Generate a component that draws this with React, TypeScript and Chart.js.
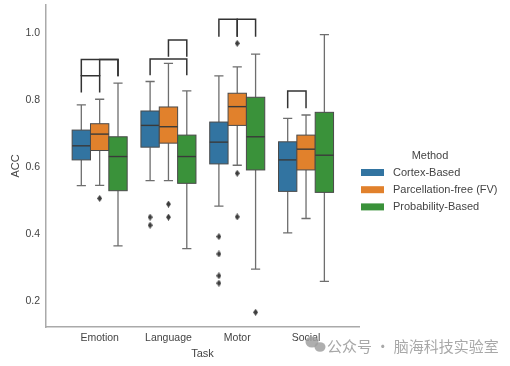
import React, { useEffect, useRef } from "react";
import { Chart, registerables } from "chart.js";

Chart.register(...registerables);

const categories = ["Emotion", "Language", "Motor", "Social"];
const methods = ["Cortex-Based", "Parcellation-free (FV)", "Probability-Based"];
const methodColors = ["#3274a1", "#e1812c", "#3a923a"];

// five-number summaries per task: [whiskerLow, q1, median, q3, whiskerHigh]
const cortexStats = [
  [0.545, 0.622, 0.664, 0.711, 0.786],
  [0.56, 0.66, 0.725, 0.768, 0.856],
  [0.484, 0.61, 0.675, 0.735, 0.873],
  [0.404, 0.528, 0.622, 0.676, 0.746],
];
const fvStats = [
  [0.546, 0.65, 0.699, 0.73, 0.803],
  [0.56, 0.672, 0.721, 0.78, 0.91],
  [0.606, 0.725, 0.781, 0.821, 0.9],
  [0.447, 0.592, 0.654, 0.696, 0.756],
];
const probStats = [
  [0.365, 0.53, 0.632, 0.691, 0.851],
  [0.357, 0.552, 0.632, 0.696, 0.828],
  [0.296, 0.592, 0.691, 0.809, 0.938],
  [0.259, 0.525, 0.636, 0.764, 0.996],
];

// outliers: [taskIndex, value]
const cortexOutliers = [
  [1, 0.451], [1, 0.427],
  [2, 0.393], [2, 0.341], [2, 0.276], [2, 0.254],
];
const fvOutliers = [
  [0, 0.507],
  [1, 0.49], [1, 0.451],
  [2, 0.97], [2, 0.582], [2, 0.452],
];
const probOutliers = [[2, 0.167]];

// significance brackets: task, method a, method b, line level, leg drop
const brackets = [
  { task: 0, a: 0, b: 1, level: 0.873, drop: 0.05 },
  { task: 0, a: 0, b: 2, level: 0.922, drop: 0.05 },
  { task: 0, a: 1, b: 2, level: 0.922, drop: 0.05 },
  { task: 1, a: 0, b: 2, level: 0.923, drop: 0.048 },
  { task: 1, a: 1, b: 2, level: 0.98, drop: 0.05 },
  { task: 2, a: 0, b: 1, level: 1.042, drop: 0.052 },
  { task: 2, a: 1, b: 2, level: 1.042, drop: 0.052 },
  { task: 3, a: 0, b: 1, level: 0.828, drop: 0.052 },
];

const yTicks = [0.2, 0.4, 0.6, 0.8, 1.0];

const allStats = [cortexStats, fvStats, probStats];
const allOutliers = [cortexOutliers, fvOutliers, probOutliers];
const hueWidth = 0.8 / 3;
const offsets = [-hueWidth, 0, hueWidth];
const textColor = "#444444";

export default function App() {
  const ref = useRef<HTMLCanvasElement | null>(null);

  useEffect(() => {
    if (!ref.current) return;

    const marker = document.createElement("canvas");
    marker.width = 5;
    marker.height = 7;
    const mc = marker.getContext("2d")!;
    mc.fillStyle = "#3d3d3d";
    mc.beginPath();
    mc.moveTo(2.5, 0);
    mc.lineTo(5, 3.5);
    mc.lineTo(2.5, 7);
    mc.lineTo(0, 3.5);
    mc.closePath();
    mc.fill();

    const boxPlugin = {
      id: "boxes",
      beforeDatasetsDraw(chart: any) {
        const { ctx } = chart;
        const x = chart.scales.x;
        const y = chart.scales.y;
        ctx.save();
        allStats.forEach((stats, m) => {
          stats.forEach((s, c) => {
            const [lo, q1, med, q3, hi] = s;
            const pos = c + offsets[m];
            const cx = x.getPixelForValue(pos);
            const l = x.getPixelForValue(pos - hueWidth / 2);
            const r = x.getPixelForValue(pos + hueWidth / 2);
            const cl = x.getPixelForValue(pos - hueWidth / 4);
            const cr = x.getPixelForValue(pos + hueWidth / 4);
            ctx.strokeStyle = "#6e6e6e";
            ctx.lineWidth = 1.3;
            ctx.beginPath();
            ctx.moveTo(cx, y.getPixelForValue(q3));
            ctx.lineTo(cx, y.getPixelForValue(hi));
            ctx.moveTo(cl, y.getPixelForValue(hi));
            ctx.lineTo(cr, y.getPixelForValue(hi));
            ctx.moveTo(cx, y.getPixelForValue(q1));
            ctx.lineTo(cx, y.getPixelForValue(lo));
            ctx.moveTo(cl, y.getPixelForValue(lo));
            ctx.lineTo(cr, y.getPixelForValue(lo));
            ctx.stroke();
            const top = y.getPixelForValue(q3);
            const bot = y.getPixelForValue(q1);
            ctx.fillStyle = methodColors[m];
            ctx.fillRect(l, top, r - l, bot - top);
            ctx.strokeStyle = "#4a4a4a";
            ctx.lineWidth = 1;
            ctx.strokeRect(l, top, r - l, bot - top);
            ctx.strokeStyle = "#3a3a3a";
            ctx.lineWidth = 1.4;
            ctx.beginPath();
            ctx.moveTo(l, y.getPixelForValue(med));
            ctx.lineTo(r, y.getPixelForValue(med));
            ctx.stroke();
          });
        });
        ctx.restore();
      },
      afterDatasetsDraw(chart: any) {
        const { ctx } = chart;
        const x = chart.scales.x;
        const y = chart.scales.y;
        ctx.save();
        ctx.strokeStyle = "#333333";
        ctx.lineWidth = 1.5;
        brackets.forEach((b) => {
          const xa = x.getPixelForValue(b.task + offsets[b.a]);
          const xb = x.getPixelForValue(b.task + offsets[b.b]);
          const yl = y.getPixelForValue(b.level);
          const yd = y.getPixelForValue(b.level - b.drop);
          ctx.beginPath();
          ctx.moveTo(xa, yd);
          ctx.lineTo(xa, yl);
          ctx.lineTo(xb, yl);
          ctx.lineTo(xb, yd);
          ctx.stroke();
        });
        ctx.restore();
      },
      afterDraw(chart: any) {
        const { ctx } = chart;
        ctx.save();
        // legend
        ctx.fillStyle = textColor;
        ctx.font = "11px 'Liberation Sans', Arial, sans-serif";
        ctx.textAlign = "center";
        ctx.textBaseline = "middle";
        ctx.fillText("Method", 430, 156);
        ctx.textAlign = "left";
        methods.forEach((name, i) => {
          const cy = 172.5 + i * 17.2;
          ctx.fillStyle = methodColors[i];
          ctx.fillRect(361, cy - 3.5, 23, 7);
          ctx.fillStyle = textColor;
          ctx.fillText(name, 393, cy + 0.5);
        });
        // watermark
        ctx.fillStyle = "rgba(160,160,160,0.85)";
        ctx.beginPath();
        ctx.ellipse(312, 342, 6.5, 5.5, 0, 0, Math.PI * 2);
        ctx.fill();
        ctx.beginPath();
        ctx.ellipse(320, 347, 5.5, 4.8, 0, 0, Math.PI * 2);
        ctx.fill();
        ctx.fillStyle = "#a8a8a8";
        ctx.font = "15px 'Noto Sans CJK SC', sans-serif";
        ctx.textBaseline = "middle";
        ctx.fillText("公众号 · 脑海科技实验室", 327, 346);
        ctx.restore();
      },
    };

    const datasets = allOutliers.map((outs, m) => ({
      label: methods[m],
      data: outs.map(([c, v]) => ({ x: c + offsets[m], y: v })),
      pointStyle: marker,
      pointRadius: 3,
      backgroundColor: "#3d3d3d",
      borderWidth: 0,
    }));

    const chart = new Chart(ref.current, {
      type: "scatter",
      data: { datasets },
      plugins: [boxPlugin],
      options: {
        animation: false,
        responsive: false,
        layout: { autoPadding: false, padding: { left: 0, right: 151, top: 5, bottom: 0 } },
        plugins: { legend: { display: false }, tooltip: { enabled: false } },
        scales: {
          x: {
            type: "linear",
            min: -0.78,
            max: 3.77,
            grid: { display: false, drawTicks: false },
            border: { color: "#aaaaaa", width: 1.5 },
            afterBuildTicks: (scale: any) => {
              scale.ticks = categories.map((_, i) => ({ value: i }));
            },
            afterFit: (scale: any) => {
              scale.height = 39;
              scale.paddingLeft = 0;
              scale.paddingRight = 0;
            },
            ticks: {
              autoSkip: false,
              maxRotation: 0,
              padding: 5,
              color: textColor,
              font: { family: "'Liberation Sans', Arial, sans-serif", size: 10.5 },
              callback: (v: any) => categories[Math.round(Number(v))] ?? "",
            },
            title: {
              display: true,
              text: "Task",
              color: textColor,
              font: { family: "'Liberation Sans', Arial, sans-serif", size: 11 },
              padding: { top: 0, bottom: 5 },
            },
          },
          y: {
            type: "linear",
            min: 0.123,
            max: 1.0845,
            grid: { display: false, drawTicks: false },
            border: { color: "#aaaaaa", width: 1.5 },
            afterBuildTicks: (scale: any) => {
              scale.ticks = yTicks.map((v) => ({ value: v }));
            },
            afterFit: (scale: any) => {
              scale.width = 46;
              scale.paddingTop = 0;
              scale.paddingBottom = 0;
            },
            ticks: {
              padding: 6,
              color: textColor,
              font: { family: "'Liberation Sans', Arial, sans-serif", size: 10.5 },
              callback: (v: any) => Number(v).toFixed(1),
            },
            title: {
              display: true,
              text: "ACC",
              color: textColor,
              font: { family: "'Liberation Sans', Arial, sans-serif", size: 11 },
              padding: { top: 9, bottom: 0 },
            },
          },
        },
      },
    } as any);

    return () => chart.destroy();
  }, []);

  return (
    <div style={{ position: "fixed", left: 0, top: 0, width: 510, height: 366, background: "#fff" }}>
      <canvas ref={ref} width={510} height={366} style={{ display: "block" }} />
    </div>
  );
}
